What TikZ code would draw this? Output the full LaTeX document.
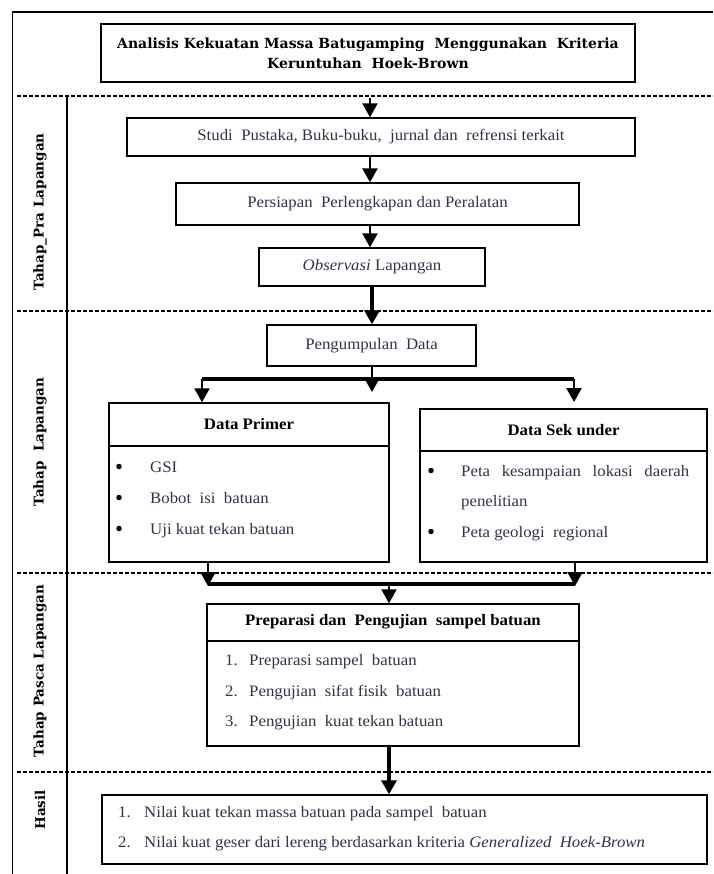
\documentclass[tikz,border=0pt]{standalone}
\usepackage{fontspec}
\setmainfont{Liberation Serif}[FakeStretch=1.05]
\newfontfamily\slab{DejaVu Serif}
\usetikzlibrary{arrows.meta}
\definecolor{bodytext}{RGB}{50,50,72}
\begin{document}
\begin{tikzpicture}[x=1pt,y=-1pt,
  box/.style={draw,line width=1.4pt,inner sep=0pt},
  frameline/.style={line width=1.4pt},
  sepline/.style={line width=1.2pt,dash pattern=on 4pt off 2pt},
  arr/.style={line width=2.4pt,-{Triangle[length=14pt,width=15pt]}},
  tarr/.style={line width=4.2pt,-{Triangle[length=14pt,width=15pt]}},
  bar/.style={line width=3.2pt},
  body/.style={font=\fontsize{16}{18}\selectfont,text=bodytext},
  txt/.style={body,anchor=base west,inner sep=0pt},
  dot/.style={circle,fill=black,inner sep=0pt,minimum size=5.5pt},
  hd/.style={font=\bfseries\fontsize{16}{18}\selectfont,inner sep=0pt},
  lab/.style={rotate=90,font=\slab\bfseries\fontsize{13.5}{15}\selectfont,inner sep=0pt}
]
\useasboundingbox (0,0) rectangle (713,874);
% frame
\draw[frameline] (12.5,874) -- (12.5,12) -- (713,12);
\draw[frameline] (67,96) -- (67,874);
\draw[sepline] (17,96) -- (713,96);
\draw[sepline] (17,311) -- (713,311);
\draw[sepline] (17,573) -- (713,573);
\draw[sepline] (17,772) -- (713,772);
% labels
\node[lab] (l1) at (40,212) {Tahap\_Pra Lapangan};
\node[lab] (l2) at (40,442) {Tahap\ \ Lapangan};
\node[lab] (l3) at (40,671) {Tahap Pasca Lapangan};
\node[lab] (l4) at (40,810) {Hasil};
% title
\node[box,minimum width=534pt,minimum height=58pt,align=center,
  font=\slab\bfseries\fontsize{14}{20}\selectfont] (title) at (368,53)
  {Analisis Kekuatan Massa Batugamping\ \ Menggunakan\ \ Kriteria\\Keruntuhan\ \ Hoek-Brown};
% pra lapangan
\node[box,body,minimum width=508pt,minimum height=38pt] (studi) at (381,137)
  {Studi\ \ Pustaka,\ Buku-buku,\ \ jurnal dan\ \ refrensi terkait};
\node[box,body,minimum width=403pt,minimum height=42pt] (pers) at (377.5,204)
  {Persiapan\ \ Perlengkapan dan Peralatan};
\node[box,body,minimum width=226pt,minimum height=38pt] (obs) at (372,267)
  {\textit{Observasi} Lapangan};
\coordinate (a0) at (370,98);
\draw[arr] (a0) -- (a0 |- studi.north);
\draw[arr] (studi.south -| 370,0) -- (pers.north -| 370,0);
\draw[arr] (pers.south -| 370,0) -- (obs.north -| 370,0);
% lapangan
\node[box,body,minimum width=209pt,minimum height=41pt] (peng) at (371.5,345.5)
  {Pengumpulan\ \ Data};
\draw[tarr] (obs.south -| 372,0) -- (peng.north -| 372,0);
\node[box,minimum width=280pt,minimum height=159pt] (prim) at (249,482.5) {};
\node[box,minimum width=287pt,minimum height=153pt] (sek) at (563.5,485.5) {};
\draw[line width=1.4pt] (prim.west |- 0,446) -- (prim.east |- 0,446);
\draw[line width=1.4pt] (sek.west |- 0,451) -- (sek.east |- 0,451);
\node[hd] (primh) at (249,424) {Data Primer};
\node[hd] (sekh) at (563.5,430) {Data Sek under};
\coordinate (bl) at (202,379);
\coordinate (br) at (574,379);
\coordinate (bm) at (372,392);
\draw[bar] (bl) -- (br);
\draw[arr] (peng.south -| 372,0) -- (bm);
\draw[arr] (bl) -- (bl |- prim.north);
\draw[arr] (br) -- (574,402);
% primer items
\node[dot] (p1b) at (119,466.5) {};
\node[txt] (p1) at (150,472) {GSI};
\node[dot] (p2b) at (119,497.5) {};
\node[txt] (p2) at (150,503) {Bobot\ \ isi\ \ batuan};
\node[dot] (p3b) at (119,528.5) {};
\node[txt] (p3) at (150,534) {Uji kuat tekan batuan};
% sekunder items
\node[dot] (s1b) at (431,470.5) {};
\node[txt] (s1) at (461,476) {\makebox[228pt][s]{Peta kesampaian lokasi daerah}};
\node[txt] (s1c) at (461,506) {penelitian};
\node[dot] (s2b) at (431,531.5) {};
\node[txt] (s2) at (461,537) {Peta geologi\ \ regional};
% pasca lapangan
\coordinate (jl) at (208,584);
\coordinate (jr) at (575,584);
\draw[arr] (prim.south -| jl) -- (208,586);
\draw[arr] (sek.south -| jr) -- (575,586);
\draw[bar] (jl) -- (jr);
\node[box,minimum width=372pt,minimum height=142pt] (prep) at (393,675) {};
\draw[line width=1.4pt] (prep.west |- 0,641) -- (prep.east |- 0,641);
\node[hd] (preph) at (393,622) {Preparasi dan\ \ Pengujian\ \ sampel batuan};
\draw[arr] (389,584) -- (prep.north -| 389,0);
\node[txt] (r1n) at (225,665) {1.};
\node[txt] (r1) at (249,665) {Preparasi sampel\ \ batuan};
\node[txt] (r2n) at (225,696) {2.};
\node[txt] (r2) at (249,696) {Pengujian\ \ sifat fisik\ \ batuan};
\node[txt] (r3n) at (225,726) {3.};
\node[txt] (r3) at (249,726) {Pengujian\ \ kuat tekan batuan};
% hasil
\node[box,minimum width=605pt,minimum height=69pt] (hasil) at (404.5,829.5) {};
\draw[tarr] (prep.south -| 389,0) -- (hasil.north -| 389,0);
\node[txt] (h1n) at (118,817) {1.};
\node[txt] (h1) at (144,817) {Nilai kuat tekan massa batuan pada sampel\ \ batuan};
\node[txt] (h2n) at (118,847) {2.};
\node[txt] (h2) at (144,847) {Nilai kuat geser dari lereng berdasarkan kriteria \textit{Generalized\ \ Hoek-Brown}};
\end{tikzpicture}
\end{document}
